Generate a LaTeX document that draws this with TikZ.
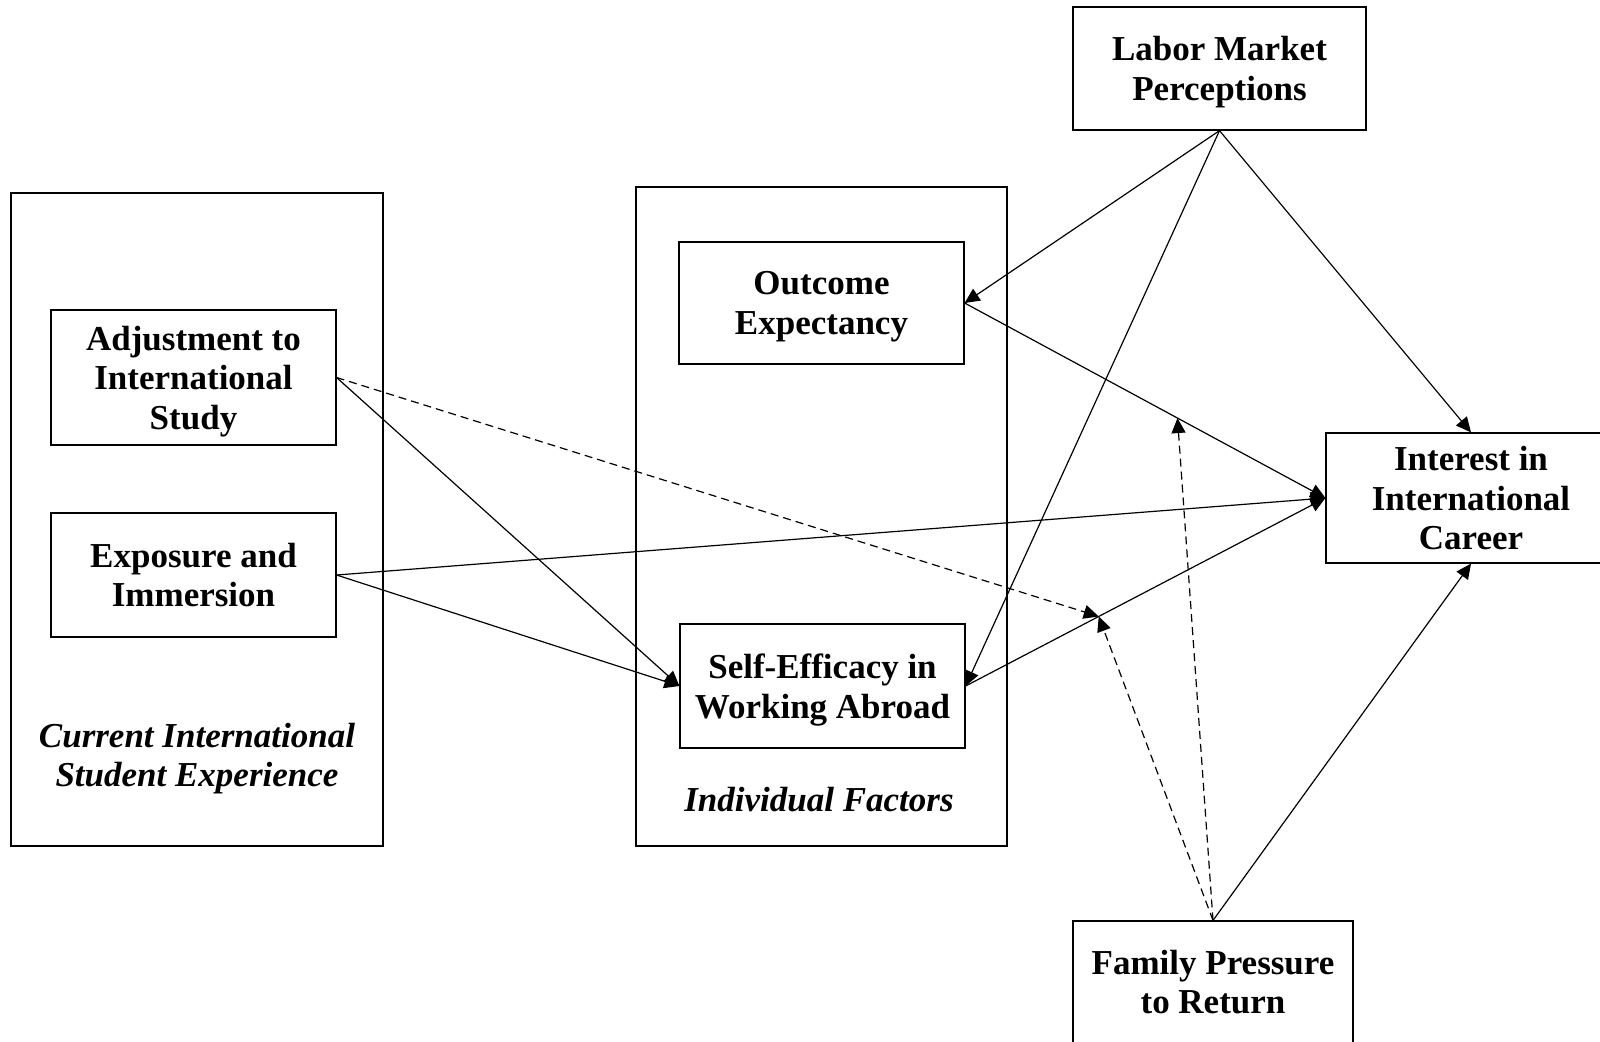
\documentclass[tikz,border=0pt]{standalone}
\usepackage{fontspec}
\setmainfont{Liberation Serif}
\usetikzlibrary{arrows.meta}
\newcommand{\boxfont}{\bfseries\fontsize{17.5}{19.7}\selectfont}

\begin{document}
\begin{tikzpicture}[x=0.5pt,y=-0.5pt,
  every node/.style={font=\boxfont,align=center,inner sep=0pt,text depth=0pt},
  box/.style={draw,line width=0.6pt,minimum width=142.5pt},
  frame/.style={line width=0.6pt},
  link/.style={line width=0.6pt,-{Triangle[length=7.5pt,width=7pt]}},
  modlink/.style={link,dash pattern=on 4pt off 2.5pt}]
\useasboundingbox (0,0) rectangle (1600,1041);
\clip (0,0) rectangle (1600,1041);

\draw[frame] (11,193) rectangle (383,846);
\draw[frame] (636,187) rectangle (1007,846);

\node[box,minimum height=67.5pt] (adj) at (193.5,377.5) {Adjustment to\\International\\Study};
\node[box,minimum height=62pt] (exp) at (193.5,575) {Exposure and\\Immersion};
\node[font=\boxfont\itshape] (cise) at (197,755) {Current International\\Student Experience};

\node[box,minimum height=61pt] (oe) at (821.5,303) {Outcome\\Expectancy};
\node[box,minimum height=62pt] (se) at (822.5,686) {Self-Efficacy in\\Working Abroad};
\node[font=\boxfont\itshape] (indf) at (819,799) {Individual Factors};

\node[box,minimum width=146.5pt,minimum height=61.5pt] (lm) at (1219.5,68.5) {Labor Market\\Perceptions};
\node[box,minimum width=145pt,minimum height=65pt] (ii) at (1471,498) {Interest in\\International\\Career};
\node[box,minimum width=140pt,minimum height=61pt] (fp) at (1213,982) {Family Pressure\\to Return};

\draw[link] (lm.south) -- (oe.east);
\draw[link] (lm.south) -- (se.east);
\draw[link] (lm.south) -- (ii.north);
\draw[link] (oe.east) -- (ii.west);
\draw[link] (exp.east) -- (ii.west);
\draw[link] (se.east) -- (ii.west);
\draw[link] (adj.east) -- (se.west);
\draw[link] (exp.east) -- (se.west);

% moderation points
\path (se.east) -- (ii.west) coordinate[pos=0.37] (m1);
\path (oe.east) -- (ii.west) coordinate[pos=0.59] (m2);
\draw[modlink] (adj.east) -- (m1);
\draw[modlink] (fp.north) -- (m1);
\draw[modlink] (fp.north) -- (m2);
\draw[link] (fp.north) -- (ii.south);

\end{tikzpicture}
\end{document}
